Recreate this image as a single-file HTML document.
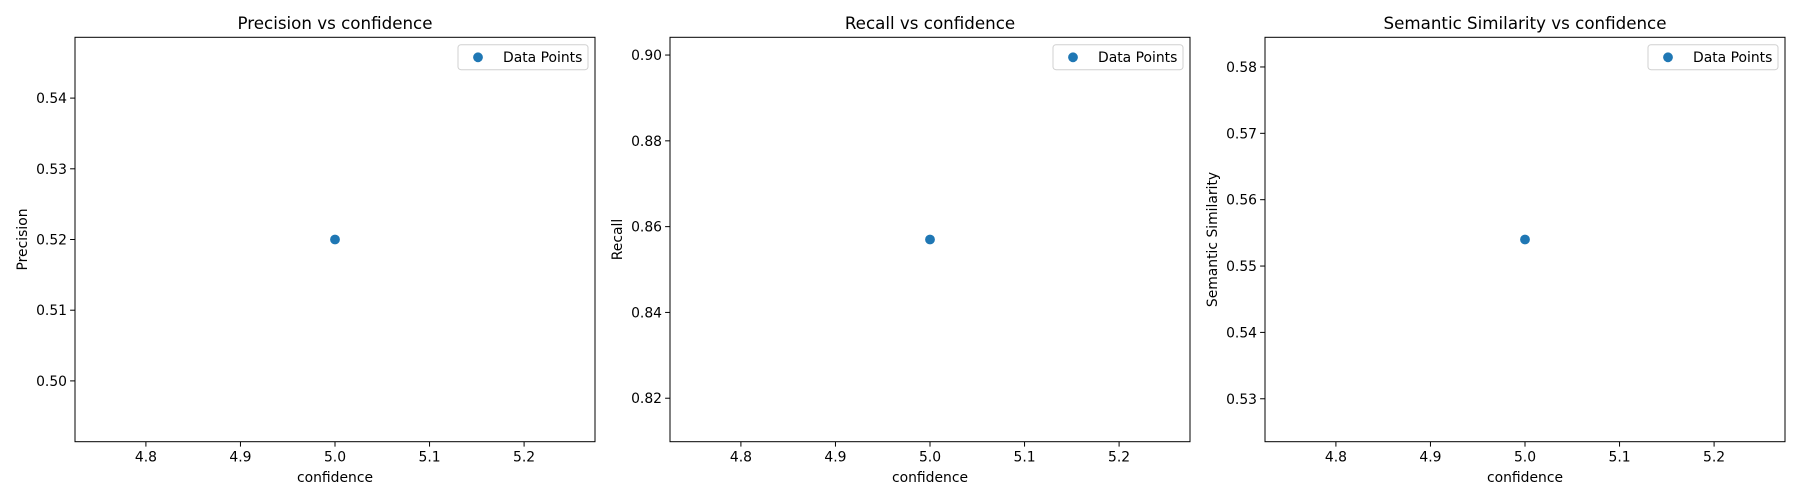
<!DOCTYPE html>
<html><head><meta charset="utf-8"><style>
body{margin:0;background:#fff;}
svg{display:block;font-family:"DejaVu Sans","Liberation Sans",sans-serif;}
</style></head><body>
<svg id="fig" width="1800" height="500" xmlns="http://www.w3.org/2000/svg"></svg>
<script>
const titles = ["Precision vs confidence","Recall vs confidence","Semantic Similarity vs confidence"];
const yLabels = ["Precision","Recall","Semantic Similarity"];
const xValues = [[5.0],[5.0],[5.0]];
const yValues = [[0.52],[0.857],[0.554]];
const xTicks = [4.8,4.9,5.0,5.1,5.2];
const yTicks = [[0.50,0.51,0.52,0.53,0.54],[0.82,0.84,0.86,0.88,0.90],[0.53,0.54,0.55,0.56,0.57,0.58]];
const yDigits = [2,2,2];

const NS="http://www.w3.org/2000/svg";
const svg=document.getElementById('fig');
function mk(tag,attrs,parent){const e=document.createElementNS(NS,tag);for(const k in attrs)e.setAttribute(k,attrs[k]);(parent||svg).appendChild(e);return e;}
const lefts=[75,670,1265], W=520, axTop=37.3, axBottom=441.7, H=axBottom-axTop;
for(let p=0;p<3;p++){
  const L=lefts[p];
  const g=mk('g',{});
  
  
  const xs=xValues[p], ys=yValues[p];
  let xmin=Math.min(...xs),xmax=Math.max(...xs),ymin=Math.min(...ys),ymax=Math.max(...ys);
  if(xmax===xmin){xmin-=0.05*Math.abs(xmin);xmax+=0.05*Math.abs(xmax);}
  if(ymax===ymin){ymin-=0.05*Math.abs(ymin);ymax+=0.05*Math.abs(ymax);}
  const dx=(xmax-xmin)*0.05, dy=(ymax-ymin)*0.05;
  xmin-=dx;xmax+=dx;ymin-=dy;ymax+=dy;
  const X=v=>L+(v-xmin)/(xmax-xmin)*W;
  const Y=v=>axBottom-(v-ymin)/(ymax-ymin)*H;
  const frame=mk('rect',{x:L,y:axTop,width:W,height:H,fill:'none',stroke:'#000','stroke-width':1},g);
  
  
  xTicks.forEach(t=>{
    const x=X(t); if(x<L||x>L+W)return;
    mk('line',{x1:x,x2:x,y1:axBottom,y2:axBottom+4.9,stroke:'#000','stroke-width':1},g);
    const tx=mk('text',{x:x,y:axBottom+20,'font-size':13.9,'text-anchor':'middle',fill:'#000'},g);
    tx.textContent=t.toFixed(1);
    
    
  });
  yTicks[p].forEach(t=>{
    const y=Y(t); if(y<axTop||y>axBottom)return;
    mk('line',{x1:L-4.9,x2:L,y1:y,y2:y,stroke:'#000','stroke-width':1},g);
    const ty=mk('text',{x:L-8,y:y+5,'font-size':13.9,'text-anchor':'end',fill:'#000'},g);
    ty.textContent=t.toFixed(yDigits[p]);
    
    
  });
  xs.forEach((v,i)=>{
    const c=mk('circle',{cx:X(v),cy:Y(ys[i]),r:4.9,fill:'#1f77b4'},g);
    
    
  });
  const ti=mk('text',{x:L+W/2,y:29,'font-size':16.7,'text-anchor':'middle',fill:'#000'},g);
  ti.textContent=titles[p];
  
  
  const xl=mk('text',{x:L+W/2,y:482,'font-size':13.9,'text-anchor':'middle',fill:'#000'},g);
  xl.textContent='confidence';
  
  
  const yl=mk('text',{x:0,y:0,'font-size':13.9,'text-anchor':'middle',fill:'#000',transform:`translate(${L-48},${(axTop+axBottom)/2}) rotate(-90)`},g);
  yl.textContent=yLabels[p];
  
  
  const lg=mk('g',{},g);
  
  
  mk('rect',{x:L+W-137,y:44.7,width:130,height:25,rx:3,fill:'#fff',stroke:'#d0d0d0','stroke-width':1},lg);
  mk('circle',{cx:L+W-117,cy:57.3,r:4.9,fill:'#1f77b4'},lg);
  const lt=mk('text',{x:L+W-92,y:62,'font-size':13.9,fill:'#000'},lg);
  lt.textContent='Data Points';
  
  
}
</script>
</body></html>
